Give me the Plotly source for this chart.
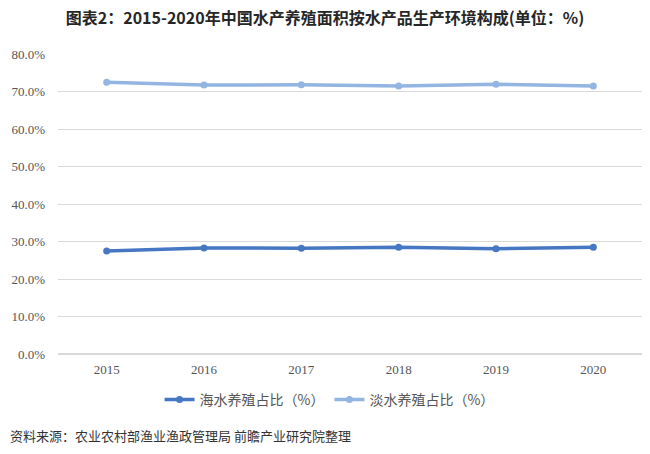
import plotly.graph_objects as go

years = ["2015", "2016", "2017", "2018", "2019", "2020"]
sea = [27.5, 28.3, 28.2, 28.5, 28.1, 28.5]
fresh = [72.5, 71.7, 71.8, 71.5, 71.9, 71.5]
yticks = [0, 10, 20, 30, 40, 50, 60, 70, 80]

fig = go.Figure()
fig.add_trace(go.Scatter(
    x=years, y=[v / 100 for v in sea], name="海水养殖占比（%）",
    mode="lines+markers",
    line=dict(color="#4677C2", width=3.5),
    marker=dict(color="#4677C2", size=7),
))
fig.add_trace(go.Scatter(
    x=years, y=[v / 100 for v in fresh], name="淡水养殖占比（%）",
    mode="lines+markers",
    line=dict(color="#93B5E2", width=3.5),
    marker=dict(color="#93B5E2", size=7),
))

fig.update_layout(
    width=650, height=454,
    paper_bgcolor="white", plot_bgcolor="white",
    margin=dict(l=58, r=8, t=54, b=100),
    title=dict(
        text="<b>图表2：2015-2020年中国水产养殖面积按水产品生产环境构成(单位：%)</b>",
        x=0.5, xanchor="center", y=0.96, yanchor="middle",
        font=dict(family="Noto Sans CJK SC", size=16, color="#262626"),
    ),
    xaxis=dict(
        type="category", range=[-0.5, 5.5], showgrid=False, showline=False, zeroline=False,
        ticks="", ticklabelstandoff=6,
        tickfont=dict(family="Liberation Serif", size=13, color="#555555"),
    ),
    yaxis=dict(
        range=[0, 0.8], tickvals=[t / 100 for t in yticks],
        ticktext=[f"{t:.1f}%" for t in yticks],
        showgrid=True, gridcolor="#D9D9D9", gridwidth=1,
        zeroline=True, zerolinecolor="#D9D9D9", showline=False, ticks="",
        ticklabelstandoff=12,
        tickfont=dict(family="Liberation Serif", size=13, color="#555555"),
    ),
    legend=dict(
        orientation="h", x=0.465, xanchor="center", y=-0.153, yanchor="middle",
        font=dict(family="Noto Sans CJK SC", size=14, color="#555555"),
        itemwidth=30, traceorder="normal",
    ),
    showlegend=True,
)

fig.add_annotation(
    text="资料来源：农业农村部渔业渔政管理局 前瞻产业研究院整理",
    xref="paper", yref="paper", x=-50 / 584, y=-0.27, xanchor="left", yanchor="middle",
    showarrow=False, font=dict(family="Noto Sans CJK SC", size=13, color="#333333"),
)

fig.write_html("out.html", config={"displayModeBar": False},
               post_script="document.body.style.margin='0';")
